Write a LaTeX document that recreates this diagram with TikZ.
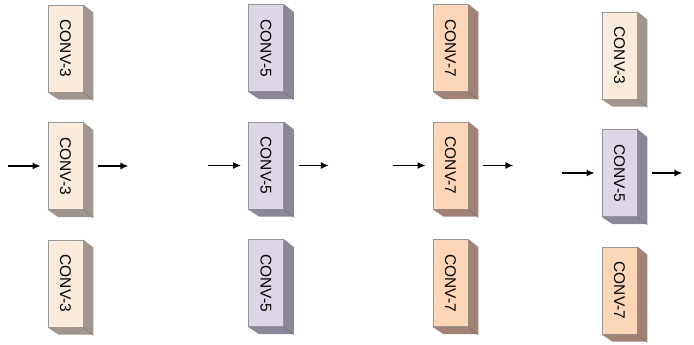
\documentclass[tikz,border=0pt]{standalone}
\usepackage{fontspec}
\setmainfont{Liberation Sans}
\usepackage{graphicx}
\usetikzlibrary{positioning, arrows.meta}
\definecolor{cEdge}{RGB}{150,150,150}
\definecolor{cThree}{RGB}{251,235,221}
\definecolor{cFive}{RGB}{221,214,230}
\definecolor{cSeven}{RGB}{253,214,184}
\definecolor{sThree}{RGB}{160,150,143}
\definecolor{sFive}{RGB}{140,135,152}
\definecolor{sSeven}{RGB}{160,131,118}
\newcommand{\convtxt}[1]{\rotatebox{-90}{CONV-#1}}

\begin{document}
\begin{tikzpicture}[x=1pt, y=1pt, node distance=117.5pt, on grid,
    conv/.style={draw=cEdge, line width=0.8pt, minimum width=35pt, minimum height=87pt,
                 inner sep=0pt, font=\fontsize{15.5}{18}\selectfont},
    conv3/.style={conv, fill=cThree},
    conv5/.style={conv, fill=cFive},
    conv7/.style={conv, fill=cSeven},
    flow/.style={-{Latex[length=8pt,width=7pt]}, line width=1.4pt}]
    \useasboundingbox (0,0) rectangle (694,-345);

    \node[conv3] (a1) at (65.5,-48.5) {\convtxt{3}};
    \node[conv3] (a2) [below=of a1] {\convtxt{3}};
    \node[conv3] (a3) [below=of a2] {\convtxt{3}};

    \node[conv5] (b1) at (266,-48) {\convtxt{5}};
    \node[conv5] (b2) [below=of b1] {\convtxt{5}};
    \node[conv5] (b3) [below=of b2] {\convtxt{5}};

    \node[conv7] (c1) at (450.5,-48) {\convtxt{7}};
    \node[conv7] (c2) [below=of c1] {\convtxt{7}};
    \node[conv7] (c3) [below=of c2] {\convtxt{7}};

    \node[conv3] (d1) at (619.5,-55.5) {\convtxt{3}};
    \node[conv5] (d2) [below=of d1] {\convtxt{5}};
    \node[conv7] (d3) [below=of d2] {\convtxt{7}};

    % depth of each block
    \foreach \n/\s in {a1/sThree, a2/sThree, a3/sThree, b1/sFive, b2/sFive, b3/sFive,
                       c1/sSeven, c2/sSeven, c3/sSeven, d1/sThree, d2/sFive, d3/sSeven} {
        \fill[\s] (\n.north east) -- ++(10,-8) -- ++(0,-87) -- ++(-35,0)
            -- (\n.south west) -- (\n.south east) -- cycle;
        \draw[\s!75!black, line width=0.4pt] (\n.south east) -- ++(10,-8);
    }

    % inputs and outputs
    \foreach \n in {a2, b2, c2, d2} {
        \coordinate (\n in) at ([xshift=-40pt]\n.west);
        \coordinate (\n out) at ([xshift=45pt]\n.east);
        \draw[flow, shorten >=7pt] (\n in) -- (\n);
        \draw[flow, shorten <=15pt] (\n) -- (\n out);
    }
\end{tikzpicture}
\end{document}
